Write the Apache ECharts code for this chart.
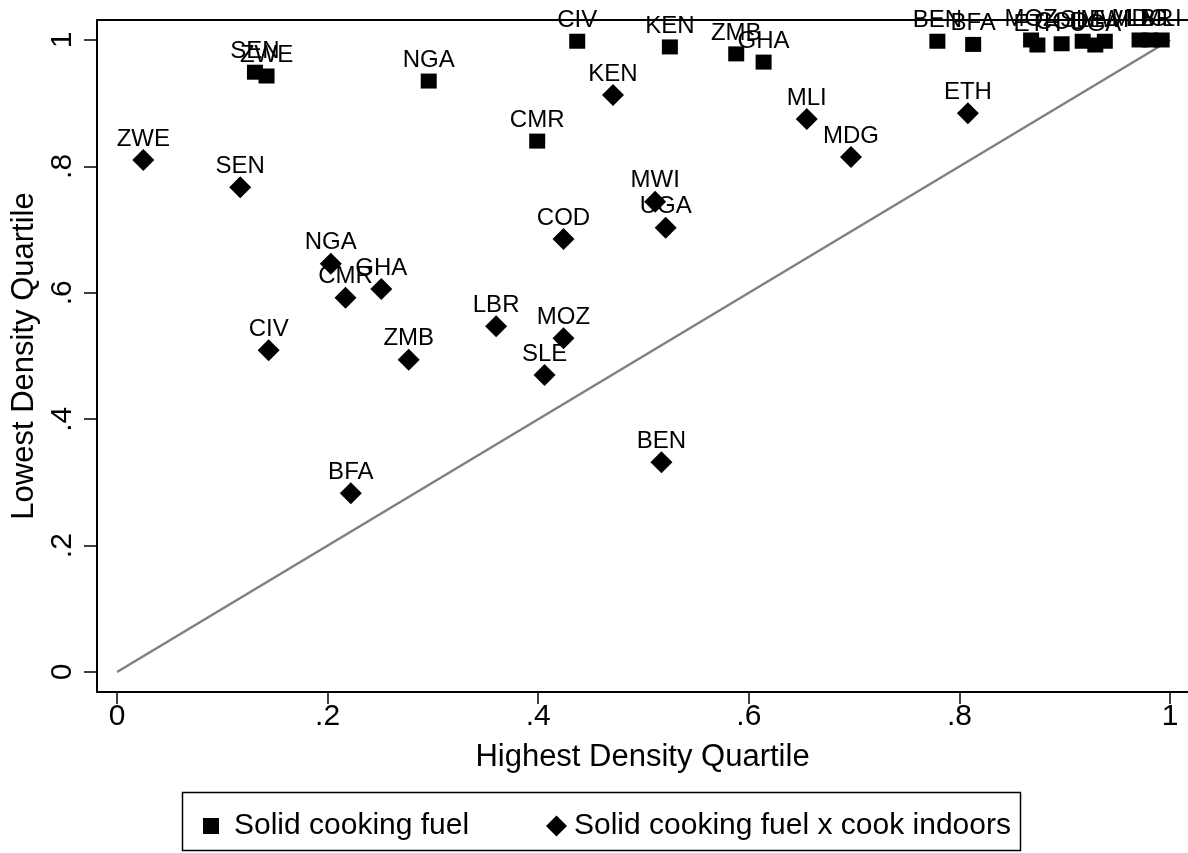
<!DOCTYPE html>
<html>
<head>
<meta charset="utf-8">
<script src="https://cdn.jsdelivr.net/npm/echarts@6/dist/echarts.min.js"></script>
<style>html,body{margin:0;padding:0;background:#fff}#c{width:1188px;height:853px}</style>
</head>
<body>
<div id="c"></div>
<script>
// Solid cooking fuel (squares)
const sqCountries = ['SEN','ZWE','NGA','CIV','KEN','ZMB','GHA','CMR','BEN','BFA','MOZ','ETH','COD','SLE','UGA','MWI','MDG','LBR','MLI'];
const sqHigh = [0.131,0.142,0.296,0.437,0.525,0.588,0.614,0.399,0.779,0.813,0.868,0.874,0.897,0.917,0.929,0.938,0.971,0.981,0.992];
const sqLow  = [0.949,0.943,0.935,0.998,0.989,0.978,0.965,0.840,0.998,0.993,1.000,0.992,0.994,0.998,0.992,0.998,1.000,1.000,1.000];
// Solid cooking fuel x cook indoors (diamonds)
const diCountries = ['ZWE','SEN','NGA','CMR','GHA','CIV','ZMB','BFA','LBR','SLE','MOZ','COD','KEN','MWI','UGA','BEN','MLI','MDG','ETH'];
const diHigh = [0.025,0.117,0.203,0.217,0.251,0.144,0.277,0.222,0.360,0.406,0.424,0.424,0.471,0.511,0.521,0.517,0.655,0.697,0.808];
const diLow  = [0.810,0.767,0.646,0.592,0.606,0.509,0.494,0.283,0.547,0.470,0.528,0.685,0.913,0.744,0.703,0.332,0.875,0.815,0.884];
// 45-degree reference line
const diagonal = [[0,0],[1,1]];
const tickValues = [0,0.2,0.4,0.6,0.8,1];
const seriesNames = ['Solid cooking fuel','Solid cooking fuel x cook indoors'];

const FONT = '"Liberation Sans", Arial, Helvetica, sans-serif';
const fmt = v => (v === 0 ? '0' : v === 1 ? '1' : String(+v.toFixed(1)).replace(/^0\./, '.'));

const chart = echarts.init(document.getElementById('c'), null, {renderer:'canvas'});
const labelCfg = {show:true, position:'inside', offset:[0,-21], color:'#000', fontSize:24, fontFamily:FONT, opacity:1};

chart.setOption({
  animation:false,
  backgroundColor:'#fff',
  grid:{left:97, top:20, right:0, bottom:161},
  xAxis:[{
    type:'value', min:-0.019, max:1.017,
    name:'Highest Density Quartile', nameLocation:'middle', nameGap:50,
    nameTextStyle:{fontSize:31, color:'#000', fontFamily:FONT},
    axisLine:{show:true, onZero:false, lineStyle:{color:'#000', width:2}},
    axisTick:{show:true, length:12, lineStyle:{color:'#000', width:1.5}, customValues:tickValues},
    axisLabel:{fontSize:30, color:'#000', fontFamily:FONT, margin:10, customValues:tickValues, formatter:fmt},
    splitLine:{show:false}
  },{
    type:'value', position:'top', min:-0.019, max:1.017,
    axisLine:{show:true, onZero:false, lineStyle:{color:'#000', width:2}},
    axisTick:{show:false}, axisLabel:{show:false}, splitLine:{show:false}
  }],
  yAxis:{
    type:'value', min:-0.0316, max:1.0316,
    name:'Lowest Density Quartile', nameLocation:'middle', nameGap:56, nameRotate:90,
    nameTextStyle:{fontSize:31, color:'#000', fontFamily:FONT},
    axisLine:{show:true, onZero:false, lineStyle:{color:'#000', width:2}},
    axisTick:{show:true, length:13, lineStyle:{color:'#000', width:1.5}, customValues:tickValues},
    axisLabel:{fontSize:30, color:'#000', fontFamily:FONT, margin:19, rotate:90, customValues:tickValues, formatter:fmt},
    splitLine:{show:false}
  },
  legend:[{
    data:[seriesNames[0]], left:198, top:806, itemWidth:16, itemHeight:16,
    textStyle:{fontSize:30, color:'#000', fontFamily:FONT, padding:[0,0,0,10]}
  },{
    data:[seriesNames[1]], left:541, top:806, itemWidth:21, itemHeight:21,
    textStyle:{fontSize:30, color:'#000', fontFamily:FONT, padding:[0,0,0,2]}
  }],
  graphic:[{
    type:'rect', shape:{x:182.5, y:792.5, width:838, height:58},
    style:{fill:'none', stroke:'#000', lineWidth:1.5}, silent:true
  }],
  series:[{
    type:'line', data:diagonal, symbol:'none', silent:true,
    lineStyle:{color:'#808080', width:2.5}, z:1
  },{
    name:seriesNames[0], type:'scatter', symbol:'rect', symbolSize:[16,15],
    itemStyle:{color:'#000', opacity:1, borderRadius:2},
    data:sqHigh.map((x,i)=>({value:[x, sqLow[i]], name:sqCountries[i]})),
    label:Object.assign({formatter:p=>p.name}, labelCfg), z:3
  },{
    name:seriesNames[1], type:'scatter', symbol:'diamond', symbolSize:22,
    itemStyle:{color:'#000', opacity:1},
    data:diHigh.map((x,i)=>({value:[x, diLow[i]], name:diCountries[i]})),
    label:Object.assign({formatter:p=>p.name}, labelCfg), z:3
  }]
});
</script>
</body>
</html>
